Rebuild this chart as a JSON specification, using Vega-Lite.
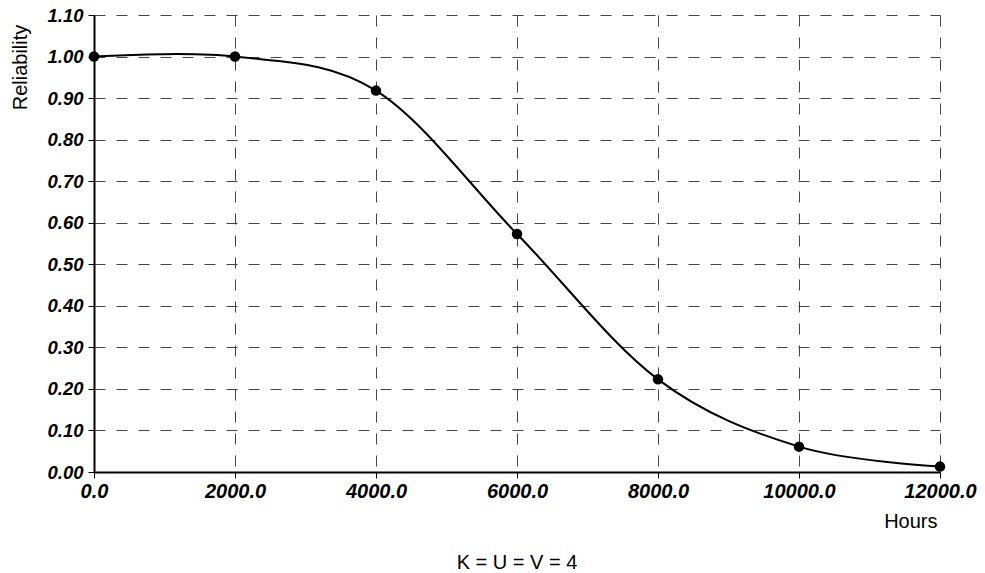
{
  "$schema": "https://vega.github.io/schema/vega-lite/v6.json",
  "width": 846,
  "height": 457,
  "autosize": {"type": "none"},
  "padding": {"left": 94, "top": 15, "right": 45, "bottom": 101},
  "background": "white",
  "title": {
    "text": "K = U = V = 4",
    "orient": "bottom",
    "anchor": "middle",
    "font": "Liberation Sans",
    "fontSize": 20,
    "fontWeight": "normal",
    "color": "black",
    "offset": 22
  },
  "config": {
    "view": {"stroke": null},
    "axis": {
      "labelFont": "Liberation Sans",
      "labelFontWeight": "bold",
      "labelFontStyle": "italic",
      "labelColor": "black",
      "titleFont": "Liberation Sans",
      "titleFontWeight": "normal",
      "titleFontSize": 20,
      "titleColor": "black",
      "domainColor": "black",
      "domainWidth": 2,
      "tickColor": "black",
      "tickSize": 6,
      "tickWidth": 1,
      "gridColor": "#444444",
      "gridDash": [11, 11],
      "gridWidth": 1,
      "gridOpacity": 1
    }
  },
  "data": {
    "values": [
      {"hours": 0, "rel": 1.0},
      {"hours": 2000, "rel": 1.0},
      {"hours": 4000, "rel": 0.918},
      {"hours": 6000, "rel": 0.573},
      {"hours": 8000, "rel": 0.223},
      {"hours": 10000, "rel": 0.061},
      {"hours": 12000, "rel": 0.013}
    ]
  },
  "encoding": {
    "x": {
      "field": "hours",
      "type": "quantitative",
      "scale": {"domain": [0, 12000], "nice": false},
      "axis": {
        "values": [0, 2000, 4000, 6000, 8000, 10000, 12000],
        "format": ".1f",
        "labelFontSize": 20,
        "title": "Hours",
        "titleX": 843,
        "titleY": 55,
        "titleAlign": "right",
        "titleBaseline": "alphabetic",
        "labelPadding": 3,
        "labelFlush": false
      }
    },
    "y": {
      "field": "rel",
      "type": "quantitative",
      "scale": {"domain": [0, 1.1], "nice": false},
      "axis": {
        "values": [0, 0.1, 0.2, 0.3, 0.4, 0.5, 0.6, 0.7, 0.8, 0.9, 1.0, 1.1],
        "format": ".2f",
        "labelFontSize": 18.5,
        "title": "Reliability",
        "titleAngle": -90,
        "titleX": -74,
        "titleY": 52,
        "titleAlign": "center",
        "titleBaseline": "middle",
        "labelPadding": 5
      }
    }
  },
  "layer": [
    {
      "mark": {"type": "line", "interpolate": "cardinal", "color": "black", "strokeWidth": 2}
    },
    {
      "mark": {"type": "circle", "color": "black", "opacity": 1, "size": 110}
    }
  ]
}
